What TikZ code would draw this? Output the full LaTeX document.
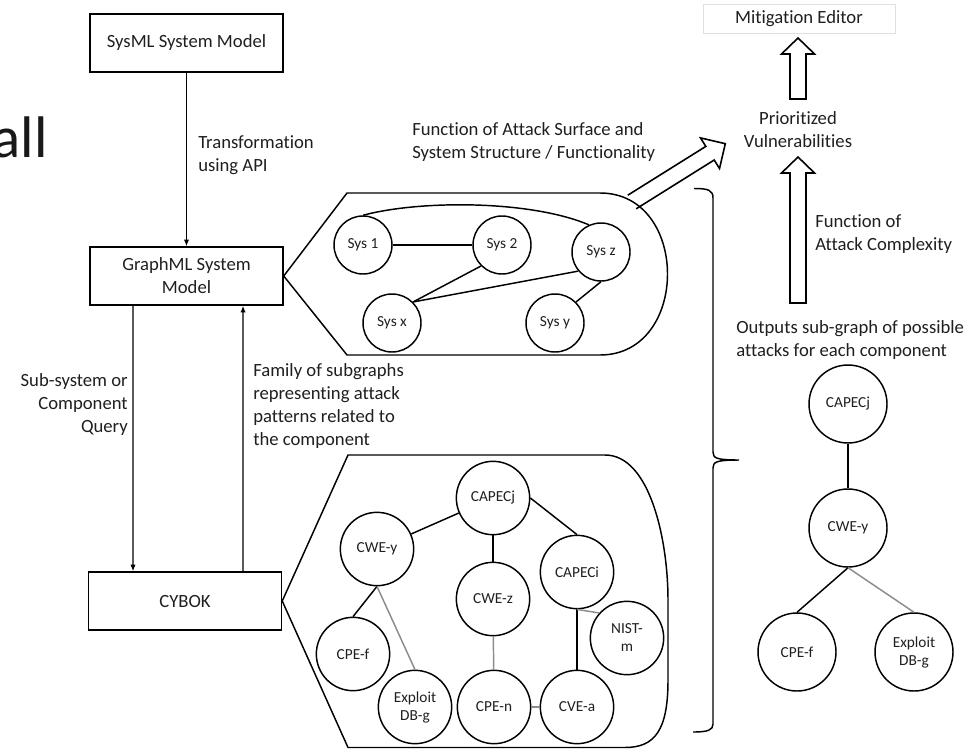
\documentclass[tikz,border=0pt]{standalone}
\usepackage{fontspec}
\setmainfont{Carlito}[Ligatures=NoCommon]
\usetikzlibrary{arrows.meta}
\begin{document}
\begin{tikzpicture}[x=0.75pt,y=-0.75pt,
  lbl/.style={font=\fontsize{14}{17.25}\selectfont, inner sep=0pt, text=black!88},
  box/.style={draw, line width=1.1pt, minimum width=144.75pt, minimum height=43.5pt,
    inner sep=0pt, align=center, text=black!88, font=\fontsize{14}{17.25}\selectfont},
  sysnode/.style={circle, draw, line width=1.1pt, minimum size=43.5pt, inner sep=0pt,
    text=black!88, font=\fontsize{11.5}{13.5}\selectfont},
  vnode/.style={circle, draw, line width=1.1pt, minimum size=55pt, inner sep=0pt,
    align=center, text=black!88, font=\fontsize{11.5}{13.5}\selectfont},
  tnode/.style={vnode, minimum size=58.5pt},
  edge/.style={line width=1.1pt},
  weak/.style={line width=1.1pt, draw=black!45},
  flow/.style={line width=0.9pt, -{Latex[length=5pt,width=4pt]}},
  hollow/.style={line width=1.2pt, line join=miter}
]
\useasboundingbox (0,0) rectangle (973,749);

% slide title fragment at the left edge
\node[font=\fontsize{44}{50}\selectfont, anchor=base east, inner sep=0pt, text=black!90] (title) at (48,157) {all};

% model boxes
\node[box] (sysml) at (186.5,43) {SysML System Model};
\node[box] (graphml) at (186.5,276) {GraphML System\\Model};
\node[box] (cybok) at (185,601) {CYBOK};

\draw[flow] (sysml) -- (graphml);
\draw[flow] ([xshift=-40.1pt]graphml.south) -- ([xshift=-39pt]cybok.north);
\draw[flow] ([xshift=43.5pt]cybok.north) -- ([xshift=42.4pt]graphml.south);

\node[lbl, anchor=west, align=left] (ltrans) at (198,155.5) {Transformation\\using API};
\node[lbl, anchor=east, align=right] (lquery) at (128,404.5) {Sub-system or\\Component\\Query};
\node[lbl, anchor=west, align=left] (lfamily) at (253,406) {Family of subgraphs\\representing attack\\patterns related to\\the component};

% system graph callout
\draw[edge] (graphml.east) -- (347,193) -- (600,193) .. controls (690,193) and (690,355) .. (600,355) -- (347,355) -- cycle;
\node[sysnode] (sys1) at (363,245) {Sys 1};
\node[sysnode] (sys2) at (502,245) {Sys 2};
\node[sysnode] (sysz) at (601,252) {Sys z};
\node[sysnode] (sysx) at (392,323) {Sys x};
\node[sysnode] (sysy) at (555,323) {Sys y};
\draw[edge] (sys1) -- (sys2);
\draw[edge] (sysx.45) -- (sys2.225);
\draw[edge] (sysx.45) -- (sysz.220);
\draw[edge] (sysz.south) -- (sysy.45);
\draw[edge] (sys1.north) .. controls (420,200) and (530,200) .. (sysz.114);

% attack pattern graph callout
\draw[edge] (cybok.east) -- (348,455) -- (605,455) .. controls (650,455) and (668,540) .. (668,600)
  -- (668,680) .. controls (668,730) and (655,747.5) .. (625,747.5) -- (348,747.5) -- cycle;
\node[vnode] (capecj) at (493,498) {CAPECj};
\node[vnode] (cwey) at (377,549) {CWE-y};
\node[vnode] (cwez) at (493,599) {CWE-z};
\node[vnode] (capeci) at (577,572) {CAPECi};
\node[vnode] (nistm) at (627,638) {NIST-\\m};
\node[vnode] (cpef) at (353,654) {CPE-f};
\node[vnode] (exploit) at (415,707) {Exploit\\DB-g};
\node[vnode] (cpen) at (494,707) {CPE-n};
\node[vnode] (cvea) at (577,707) {CVE-a};
\draw[edge] (capecj) -- (cwey);
\draw[edge] (capecj) -- (cwez);
\draw[edge] (capecj.east) -- (capeci.north);
\draw[edge] (cwey.south) -- (cpef.north);
\draw[weak] (cwey.south) -- (exploit.north);
\draw[weak] (cwez) -- (cpen);
\draw[edge] (capeci) -- (cvea);
\draw[weak] (capeci.south) -- (nistm.138);
\draw[weak] (cpen) -- (cvea);

% brace gathering both callouts
\draw[edge] (694,188.5) .. controls (708,188.5) and (713,190) .. (713,198) -- (713,452)
  .. controls (713,458) and (716,460) .. (739,460) .. controls (716,460) and (713,462) .. (713,468)
  -- (713,724) .. controls (713,730) and (708,732) .. (693,732);

% per-component output tree
\node[lbl, anchor=west, align=left] (loutputs) at (736,340) {Outputs sub-graph of possible\\attacks for each component};
\node[tnode] (rcapecj) at (848,404) {CAPECj};
\node[tnode] (rcwey) at (848,528) {CWE-y};
\node[tnode] (rcpef) at (797,652) {CPE-f};
\node[tnode] (rexploit) at (914,652) {Exploit\\DB-g};
\draw[edge] (rcapecj) -- (rcwey);
\draw[edge] (rcwey.south) -- (rcpef.north);
\draw[weak] (rcwey.south) -- (rexploit.north);

% prioritisation and mitigation
\node[lbl, align=center] (prio) at (798,130) {Prioritized\\Vulnerabilities};
\node[lbl, anchor=west, align=left] (lcomplex) at (815,234) {Function of\\Attack Complexity};
\node[lbl, anchor=west, align=left] (lsurface) at (412,142.5) {Function of Attack Surface and\\System Structure / Functionality};
\node[lbl, draw=black!12, line width=0.5pt, minimum width=144pt, minimum height=21.75pt] (mitig) at (799,18.5) {Mitigation Editor};

\draw[hollow] (790,99) -- (790,54) -- (781.5,54) -- (798,38) -- (814.5,54) -- (806,54) -- (806,99) -- cycle;
\draw[hollow] (790,303) -- (790,173) -- (781.5,173) -- (798,157) -- (814.5,173) -- (806,173) -- (806,303) -- cycle;
\draw[hollow] (627.8,195.2) -- (705.8,146.4) -- (700.5,137.9) -- (725.3,143.7) -- (719.5,168.5) -- (714.2,160) -- (636.2,208.8);
\end{tikzpicture}
\end{document}
